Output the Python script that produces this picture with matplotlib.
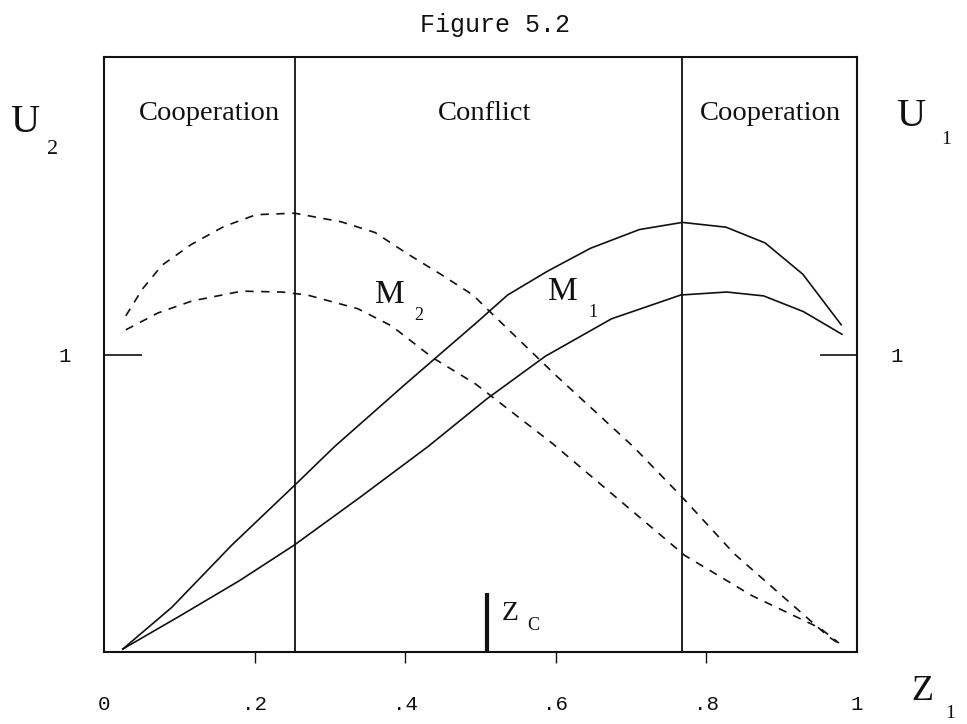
import matplotlib
matplotlib.use("Agg")
from matplotlib import pyplot as plt

# curve values (x = Z1, y = utility)
m1_hi_x = [0.025, 0.09, 0.17, 0.253, 0.306, 0.40, 0.496, 0.536, 0.589, 0.646, 0.711, 0.768, 0.826, 0.878, 0.928, 0.979]
m1_hi_y = [0.01, 0.15, 0.36, 0.56, 0.69, 0.90, 1.11, 1.20, 1.28, 1.357, 1.42, 1.444, 1.428, 1.375, 1.27, 1.10]
m1_lo_x = [0.025, 0.10, 0.18, 0.253, 0.34, 0.43, 0.508, 0.586, 0.674, 0.766, 0.827, 0.876, 0.929, 0.98]
m1_lo_y = [0.01, 0.12, 0.24, 0.36, 0.52, 0.69, 0.85, 0.994, 1.12, 1.20, 1.21, 1.197, 1.144, 1.068]

m2_hi_x = [0.029, 0.051, 0.077, 0.116, 0.159, 0.202, 0.253, 0.315, 0.36, 0.402, 0.447, 0.49, 0.51, 0.60, 0.703, 0.768, 0.837, 0.90, 0.963, 0.975]
m2_hi_y = [1.13, 1.22, 1.30, 1.37, 1.43, 1.47, 1.475, 1.446, 1.41, 1.34, 1.27, 1.20, 1.15, 0.93, 0.69, 0.52, 0.33, 0.19, 0.05, 0.03]
m2_lo_x = [0.029, 0.072, 0.117, 0.183, 0.236, 0.27, 0.337, 0.382, 0.436, 0.494, 0.596, 0.68, 0.771, 0.86, 0.951, 0.976]
m2_lo_y = [1.083, 1.14, 1.18, 1.213, 1.21, 1.20, 1.154, 1.096, 0.99, 0.90, 0.70, 0.52, 0.325, 0.19, 0.08, 0.03]

regions = [0.253, 0.768]      # cooperation / conflict boundaries
region_labels = ["Cooperation", "Conflict", "Cooperation"]
region_label_x = [0.14, 0.505, 0.885]
z_c = 0.509
x_ticks = [0, 0.2, 0.4, 0.6, 0.8, 1]
x_tick_labels = ["0", ".2", ".4", ".6", ".8", "1"]

W, H = 967, 724
fig = plt.figure(figsize=(W / 100, H / 100), dpi=100)
ax = fig.add_axes([104 / W, 1 - 652 / H, 753 / W, 595 / H])
ax.set_xlim(0, 1)
ax.set_ylim(0, 2)

ink = "#111111"
serif = ["Liberation Serif", "DejaVu Serif"]
mono = ["Liberation Mono", "DejaVu Sans Mono"]

ax.plot(m1_hi_x, m1_hi_y, color=ink, lw=1.2)
ax.plot(m1_lo_x, m1_lo_y, color=ink, lw=1.2)
ax.plot(m2_hi_x, m2_hi_y, color=ink, lw=1.2, linestyle=(0, (5, 4.5)))
ax.plot(m2_lo_x, m2_lo_y, color=ink, lw=1.2, linestyle=(0, (5, 4.5)))

for xv in regions:
    ax.axvline(xv, color=ink, lw=1.3)
ax.plot([z_c, z_c], [0, 0.2], color=ink, lw=3, solid_capstyle="butt")

for lab, xv in zip(region_labels, region_label_x):
    ax.text(xv, 1.81, lab, ha="center", va="center", fontsize=20.5, family=serif, color=ink)

ax.text(0.36, 1.20, "M", fontsize=24, family=serif, ha="left", va="center", color=ink)
ax.text(0.412, 1.13, "2", fontsize=13, family=serif, ha="left", va="center", color=ink)
ax.text(0.59, 1.21, "M", fontsize=24, family=serif, ha="left", va="center", color=ink)
ax.text(0.643, 1.14, "1", fontsize=13, family=serif, ha="left", va="center", color=ink)
ax.text(0.528, 0.13, "Z", fontsize=20, family=serif, ha="left", va="center", color=ink)
ax.text(0.562, 0.09, "C", fontsize=13, family=serif, ha="left", va="center", color=ink)

for s in ax.spines.values():
    s.set_linewidth(1.5)
    s.set_color(ink)

ax.set_xticks(x_ticks)
ax.set_xticklabels(x_tick_labels, family=mono, fontsize=15, color=ink)
ax.tick_params(axis="x", direction="out", length=8, width=1, pad=23, colors=ink)
for t in (ax.xaxis.get_major_ticks()[0], ax.xaxis.get_major_ticks()[-1]):
    t.tick1line.set_visible(False)

ax.set_yticks([1])
ax.set_yticklabels(["1"], family=mono, fontsize=15, color=ink)
ax.tick_params(axis="y", direction="in", length=27, width=1.2, left=True, right=True,
               labelleft=True, labelright=True, pad=24, colors=ink)

fig.text(495 / W, 1 - 25 / H, "Figure 5.2", ha="center", va="center", fontsize=18, family=mono, color=ink)
fig.text(25 / W, 1 - 123 / H, "U", ha="center", va="center", fontsize=29, family=serif, color=ink)
fig.text(53 / W, 1 - 150 / H, "2", ha="center", va="center", fontsize=16, family=serif, color=ink)
fig.text(911 / W, 1 - 117 / H, "U", ha="center", va="center", fontsize=29, family=serif, color=ink)
fig.text(946 / W, 1 - 140 / H, "1", ha="center", va="center", fontsize=14, family=serif, color=ink)
fig.text(922 / W, 1 - 692 / H, "Z", ha="center", va="center", fontsize=26, family=serif, color=ink)
fig.text(950 / W, 1 - 713 / H, "1", ha="center", va="center", fontsize=14, family=serif, color=ink)

fig.savefig("out.png", dpi=100)
